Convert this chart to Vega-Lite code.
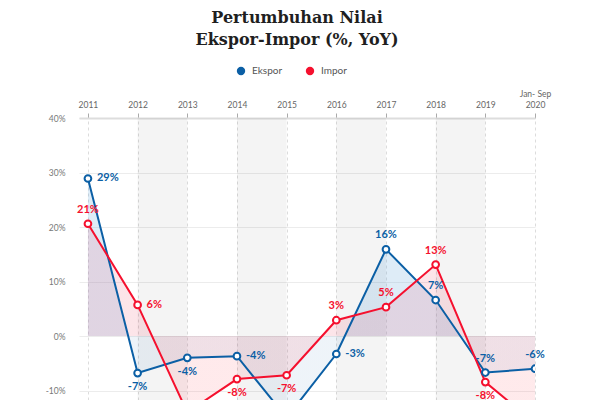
{
  "$schema": "https://vega.github.io/schema/vega-lite/v6.json",
  "width": 456,
  "height": 282,
  "autosize": {"type": "none"},
  "padding": {"left": 79, "top": 118, "right": 65, "bottom": 0},
  "background": "white",
  "title": {
    "text": ["Pertumbuhan Nilai", "Ekspor-Impor (%, YoY)"],
    "font": "DejaVu Serif",
    "fontSize": 16,
    "fontWeight": "bold",
    "color": "#1f1f1f",
    "lineHeight": 22,
    "anchor": "middle",
    "frame": "group",
    "dx": -10,
    "offset": 18
  },
  "datasets": {
    "bands": [
      {"start": 2012, "end": 2013},
      {"start": 2014, "end": 2015},
      {"start": 2016, "end": 2017},
      {"start": 2018, "end": 2019}
    ],
    "growth": [
      {"year": 2011, "series": "Ekspor", "value": 28.9},
      {"year": 2012, "series": "Ekspor", "value": -6.8},
      {"year": 2013, "series": "Ekspor", "value": -4.0},
      {"year": 2014, "series": "Ekspor", "value": -3.7},
      {"year": 2015, "series": "Ekspor", "value": -15.0},
      {"year": 2016, "series": "Ekspor", "value": -3.3},
      {"year": 2017, "series": "Ekspor", "value": 15.9},
      {"year": 2018, "series": "Ekspor", "value": 6.6},
      {"year": 2019, "series": "Ekspor", "value": -6.7},
      {"year": 2020, "series": "Ekspor", "value": -6.0},
      {"year": 2011, "series": "Impor", "value": 20.6},
      {"year": 2012, "series": "Impor", "value": 5.7},
      {"year": 2013, "series": "Impor", "value": -14.0},
      {"year": 2014, "series": "Impor", "value": -7.9},
      {"year": 2015, "series": "Impor", "value": -7.2},
      {"year": 2016, "series": "Impor", "value": 2.9},
      {"year": 2017, "series": "Impor", "value": 5.3},
      {"year": 2018, "series": "Impor", "value": 13.1},
      {"year": 2019, "series": "Impor", "value": -8.45},
      {"year": 2020, "series": "Impor", "value": -16.0}
    ]
  },
  "encoding": {
    "x": {
      "field": "year", "type": "quantitative",
      "scale": {"domain": [2010.82, 2020], "nice": false, "zero": false}
    },
    "y": {
      "field": "value", "type": "quantitative",
      "scale": {"domain": [-11.74, 40], "nice": false}
    }
  },
  "layer": [
    {
      "data": {"name": "bands"},
      "mark": {"type": "rect", "color": "#000", "opacity": 0.045},
      "encoding": {
        "x": {
          "field": "start", "type": "quantitative",
          "axis": {
            "orient": "top",
            "values": [2011, 2012, 2013, 2014, 2015, 2016, 2017, 2018, 2019, 2020],
            "labelExpr": "datum.value == 2020 ? ['Jan- Sep', '2020'] : '' + datum.value",
            "labelOverlap": false,
            "labelBound": false,
            "labelFlush": false,
            "title": null,
            "grid": true,
            "gridDash": [3, 3],
            "gridColor": "#dcdcdc",
            "domainColor": "#dddddd",
            "domainWidth": 2,
            "tickColor": "#aaaaaa",
            "tickSize": 5,
            "labelPadding": {"condition": {"test": "datum.value == 2020", "value": 15}, "value": 4},
            "labelFont": "Lato",
            "labelFontSize": 8.5,
            "labelColor": "#666666",
            "labelLineHeight": 11
          }
        },
        "x2": {"field": "end"},
        "y": null
      }
    },
    {
      "data": {"name": "growth"},
      "transform": [{"calculate": "round(datum.value) + '%'", "as": "label"}],
      "layer": [
        {
          "transform": [{"filter": "datum.series == 'Ekspor'"}],
          "mark": {
            "type": "area", "clip": true,
            "color": {
              "gradient": "linear", "x1": 0, "y1": 0, "x2": 0, "y2": 1,
              "stops": [
                {"offset": 0, "color": "rgba(90,160,215,0.2)"},
                {"offset": 0.6583, "color": "rgba(90,160,215,0.2)"},
                {"offset": 0.6583, "color": "rgba(70,130,190,0.09)"},
                {"offset": 1, "color": "rgba(70,130,190,0.09)"}
              ]
            }
          },
          "encoding": {
            "y": {
              "field": "value", "type": "quantitative",
              "axis": {
                "values": [-10, 0, 10, 20, 30, 40],
                "labelExpr": "datum.value + '%'",
                "title": null,
                "domain": false,
                "ticks": false,
                "gridColor": "#ececec",
                "labelPadding": 14,
                "labelFont": "Lato",
                "labelFontSize": 8.5,
                "labelColor": "#777777"
              }
            },
            "y2": {"datum": 0}
          }
        },
        {
          "transform": [{"filter": "datum.series == 'Impor'"}],
          "mark": {
            "type": "area", "clip": true,
            "color": {
              "gradient": "linear", "x1": 0, "y1": 0, "x2": 0, "y2": 1,
              "stops": [
                {"offset": 0, "color": "rgba(235,70,100,0.14)"},
                {"offset": 0.5628, "color": "rgba(235,70,100,0.14)"},
                {"offset": 0.5628, "color": "rgba(252,80,95,0.12)"},
                {"offset": 1, "color": "rgba(252,80,95,0.12)"}
              ]
            }
          },
          "encoding": {"y2": {"datum": 0}}
        },
        {
          "mark": {"type": "line", "clip": true, "strokeWidth": 2},
          "encoding": {
            "color": {
              "field": "series", "type": "nominal",
              "scale": {"domain": ["Ekspor", "Impor"], "range": ["#0b5fa5", "#f5102e"]},
              "legend": {
                "title": null,
                "orient": "none",
                "direction": "horizontal",
                "legendX": 157,
                "legendY": -52,
                "symbolType": "circle",
                "symbolSize": 70,
                "symbolStrokeWidth": 0,
                "labelFont": "Lato",
                "labelFontSize": 10,
                "labelColor": "#555555",
                "labelOffset": 6,
                "columnPadding": 22,
                "padding": 0,
                "encode": {
                  "symbols": {
                    "update": {
                      "fill": {"scale": "color", "field": "value"},
                      "opacity": {"value": 1}
                    }
                  }
                }
              }
            }
          }
        },
        {
          "mark": {"type": "point", "shape": "circle", "filled": true, "fill": "white", "strokeWidth": 2, "size": 45, "opacity": 1, "clip": true},
          "encoding": {
            "stroke": {
              "field": "series", "type": "nominal",
              "scale": {"domain": ["Ekspor", "Impor"], "range": ["#0b5fa5", "#f5102e"]},
              "legend": null
            }
          }
        },
        {
          "transform": [{"filter": "(datum.series == 'Ekspor' && indexof([2011, 2014, 2016], datum.year) >= 0) || (datum.series == 'Impor' && datum.year == 2012)"}],
          "mark": {"type": "text", "align": "left", "baseline": "middle", "dx": 9, "font": "Lato", "fontSize": 11, "fontWeight": "bold"},
          "encoding": {
            "text": {"field": "label", "type": "nominal"},
            "fill": {
              "field": "series", "type": "nominal",
              "scale": {"domain": ["Ekspor", "Impor"], "range": ["#0b5fa5", "#f5102e"]},
              "legend": null
            }
          }
        },
        {
          "transform": [{"filter": "(datum.series == 'Ekspor' && indexof([2012, 2013], datum.year) >= 0) || (datum.series == 'Impor' && indexof([2014, 2015, 2019], datum.year) >= 0)"}],
          "mark": {"type": "text", "align": "center", "baseline": "middle", "dy": 14, "font": "Lato", "fontSize": 11, "fontWeight": "bold"},
          "encoding": {
            "text": {"field": "label", "type": "nominal"},
            "fill": {
              "field": "series", "type": "nominal",
              "scale": {"domain": ["Ekspor", "Impor"], "range": ["#0b5fa5", "#f5102e"]},
              "legend": null
            }
          }
        },
        {
          "transform": [{"filter": "(datum.series == 'Ekspor' && indexof([2017, 2018, 2019, 2020], datum.year) >= 0) || (datum.series == 'Impor' && indexof([2011, 2016, 2017, 2018], datum.year) >= 0)"}],
          "mark": {"type": "text", "align": "center", "baseline": "middle", "dy": -14, "font": "Lato", "fontSize": 11, "fontWeight": "bold"},
          "encoding": {
            "text": {"field": "label", "type": "nominal"},
            "fill": {
              "field": "series", "type": "nominal",
              "scale": {"domain": ["Ekspor", "Impor"], "range": ["#0b5fa5", "#f5102e"]},
              "legend": null
            }
          }
        }
      ]
    }
  ],
  "config": {
    "view": {"stroke": null},
    "axis": {"gridWidth": 1}
  }
}
